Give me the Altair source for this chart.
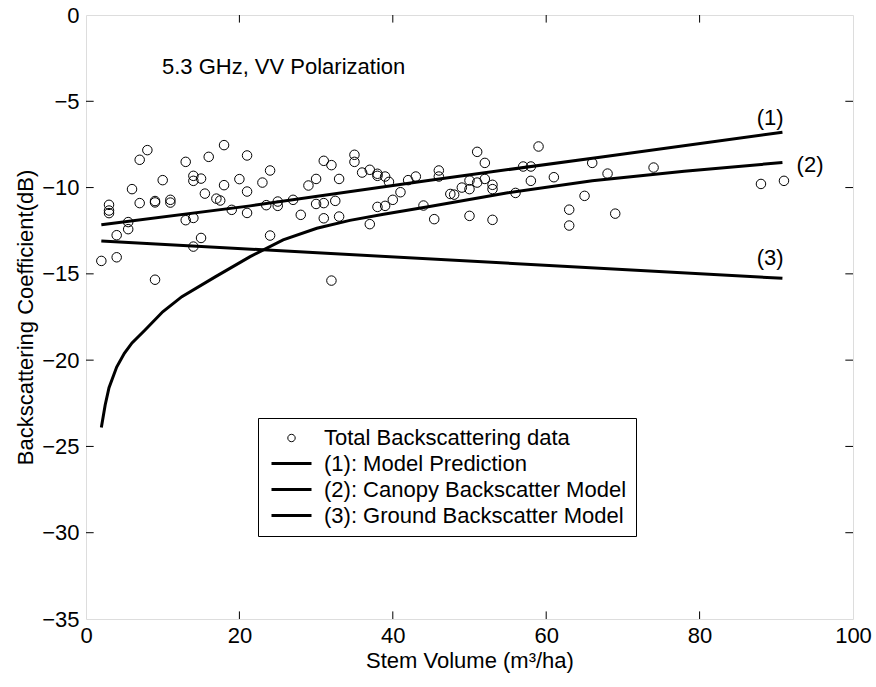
import altair as alt
import pandas as pd

FONT = "Liberation Sans"

# ---- scatter data: stem volume (m3/ha) vs total backscatter (dB) ----
stem_volume = [
    8, 7, 18, 21, 16, 13, 10, 6, 14, 14, 15, 18, 20, 21, 23, 15.5,
    17, 17.5, 19, 21, 3, 3, 3, 7, 9, 9, 11, 11, 5.5, 5.5, 13, 14,
    4, 15, 14, 2, 4, 9,
    24, 31, 32, 35, 35, 30, 29, 33, 36, 37, 38, 38, 39, 39.5, 42, 43,
    41, 40, 39, 38, 44, 23.5, 25, 25, 27, 30, 31, 32.5, 28, 31, 33, 37,
    24, 32,
    46, 46, 51, 52, 59, 57, 58, 66, 50, 51, 52, 53, 53, 49, 50, 47.5,
    48, 56, 58, 61, 65, 45.4, 50, 53, 63, 63,
    68, 74, 69, 88, 91,
]
backscatter = [
    -7.83, -8.39, -7.54, -8.14, -8.22, -8.51, -9.57, -10.09, -9.32, -9.61, -9.48, -9.86, -9.51, -10.23, -9.71, -10.35,
    -10.64, -10.75, -11.29, -11.47, -11.0, -11.33, -11.48, -10.9, -10.78, -10.86, -10.71, -10.87, -12.0, -12.41, -11.89, -11.76,
    -12.76, -12.92, -13.42, -14.25, -14.04, -15.34,
    -9.01, -8.45, -8.70, -8.10, -8.51, -9.50, -9.88, -9.50, -9.13, -8.97, -9.2, -9.32, -9.36, -9.67, -9.57, -9.36,
    -10.27, -10.71, -11.06, -11.12, -11.04, -11.02, -10.81, -11.06, -10.71, -10.95, -10.90, -10.77, -11.58, -11.78, -11.68, -12.12,
    -12.78, -15.39,
    -9.01, -9.36, -7.93, -8.57, -7.62, -8.78, -8.78, -8.57, -9.59, -9.71, -9.50, -9.84, -10.09, -10.0, -10.09, -10.37,
    -10.41, -10.31, -9.61, -9.40, -10.48, -11.83, -11.64, -11.87, -11.28, -12.2,
    -9.19, -8.84, -11.51, -9.79, -9.61,
]

# ---- model curves ----
model_x = [2.0, 21.4, 44.85, 67.0, 90.8]
model_y = [-12.16, -11.06, -9.57, -8.24, -6.79]

canopy_x = [2.0, 2.5, 3.0, 4.0, 5.0, 6.0, 7.7, 10.0, 12.5, 16.9, 21.4, 25.7, 30.1, 34.4, 38.8, 44.8, 55.0, 66.0, 78.0, 90.8]
canopy_y = [-23.9, -22.6, -21.6, -20.4, -19.6, -19.0, -18.25, -17.2, -16.32, -15.16, -14.0, -13.03, -12.36, -11.9, -11.55, -11.1, -10.3, -9.6, -9.05, -8.55]

ground_x = [2.0, 90.8]
ground_y = [-13.09, -15.26]

series_names = [
    "Total Backscattering data",
    "(1): Model Prediction",
    "(2): Canopy Backscatter Model",
    "(3): Ground Backscatter Model",
]

curve_labels = ["(1)", "(2)", "(3)"]
curve_label_x = [89.2, 94.4, 89.2]
curve_label_y = [-5.97, -8.68, -14.09]

x_ticks = [20, 40, 60, 80]
y_ticks = [-30, -25, -20, -15, -10, -5]

# ---- tables ----
pts = pd.DataFrame({"x": stem_volume, "y": backscatter, "series": series_names[0]})
lines = pd.concat([
    pd.DataFrame({"x": model_x, "y": model_y, "series": series_names[1]}),
    pd.DataFrame({"x": canopy_x, "y": canopy_y, "series": series_names[2]}),
    pd.DataFrame({"x": ground_x, "y": ground_y, "series": series_names[3]}),
], ignore_index=True)
lines["order"] = range(len(lines))
lbl = pd.DataFrame({"x": curve_label_x, "y": curve_label_y, "t": curve_labels})
xt = pd.DataFrame({"v": x_ticks})
yt = pd.DataFrame({"v": y_ticks})

xscale = alt.Scale(domain=[0, 100], nice=False, zero=False)
yscale = alt.Scale(domain=[-35, 0], nice=False, zero=False)

circle_path = "M-0.37,0A0.37,0.37,0,1,1,0.37,0A0.37,0.37,0,1,1,-0.37,0Z"
line_path = "M-2,0L2,0"

legend = alt.Legend(
    title=None, orient="none", legendX=172, legendY=403,
    fillColor="white", strokeColor="black", padding=9,
    labelFont=FONT, labelFontSize=22, labelColor="black", labelLimit=500,
    symbolSize=400, symbolOffset=13, labelOffset=21,
    symbolFillColor="transparent", rowPadding=3,
)
color = alt.Color("series:N", scale=alt.Scale(domain=series_names, range=["black"] * 4), legend=legend)
shape = alt.Shape("series:N", scale=alt.Scale(domain=series_names, range=[circle_path, line_path, line_path, line_path]), legend=legend)
sw = alt.StrokeWidth("series:N", scale=alt.Scale(type="ordinal", domain=series_names, range=[1, 3, 3, 3]), legend=legend)

xaxis = alt.Axis(
    title="Stem Volume (m³/ha)", values=[0, 20, 40, 60, 80, 100], ticks=False, domain=False, grid=False,
    labelFlush=False, labelFont=FONT, labelFontSize=22, labelColor="black", labelPadding=6,
    titleFont=FONT, titleFontSize=22, titleFontWeight="normal", titleColor="black", titlePadding=4,
)
yaxis = alt.Axis(
    title="Backscattering Coefficient(dB)", values=[-35, -30, -25, -20, -15, -10, -5, 0], ticks=False, domain=False, grid=False,
    labelFlush=False, labelFont=FONT, labelFontSize=22, labelColor="black", labelPadding=7,
    titleFont=FONT, titleFontSize=22, titleFontWeight="normal", titleColor="black", titlePadding=4,
)

base_x = alt.X("x:Q", scale=xscale, axis=xaxis)
base_y = alt.Y("y:Q", scale=yscale, axis=yaxis)

scatter = alt.Chart(pts).mark_point(filled=False, size=660, opacity=1).encode(
    x=base_x, y=base_y, color=color, shape=shape, strokeWidth=sw
)

curves = alt.Chart(lines).mark_line(strokeCap="butt").encode(
    x=alt.X("x:Q", scale=xscale),
    y=alt.Y("y:Q", scale=yscale),
    color=color, strokeWidth=sw, detail="series:N", order="order:Q",
)

labels = alt.Chart(lbl).mark_text(font=FONT, fontSize=22, color="black", align="center", baseline="middle").encode(
    x=alt.X("x:Q", scale=xscale), y=alt.Y("y:Q", scale=yscale), text="t:N"
)

title_txt = alt.Chart(pd.DataFrame({"t": ["5.3 GHz, VV Polarization"]})).mark_text(
    font=FONT, fontSize=22, color="black", align="left", baseline="alphabetic"
).encode(x=alt.datum(9.9, scale=xscale), y=alt.datum(-3.42, scale=yscale), text="t:N")

tick_bottom = alt.Chart(xt).mark_rule(color="black", strokeWidth=1).encode(
    x=alt.X("v:Q", scale=xscale), y=alt.datum(-35, scale=yscale), y2=alt.datum(-34.56))
tick_top = alt.Chart(xt).mark_rule(color="black", strokeWidth=1).encode(
    x=alt.X("v:Q", scale=xscale), y=alt.datum(0, scale=yscale), y2=alt.datum(-0.44))
tick_left = alt.Chart(yt).mark_rule(color="black", strokeWidth=1).encode(
    y=alt.Y("v:Q", scale=yscale), x=alt.datum(0, scale=xscale), x2=alt.datum(1.0))
tick_right = alt.Chart(yt).mark_rule(color="black", strokeWidth=1).encode(
    y=alt.Y("v:Q", scale=yscale), x=alt.datum(100, scale=xscale), x2=alt.datum(99.0))

chart = alt.layer(
    tick_bottom, tick_top, tick_left, tick_right, curves, scatter, labels, title_txt
).properties(
    width=767, height=604,
    autosize=alt.AutoSizeParams(type="none"),
    padding={"left": 86, "top": 15, "right": 23, "bottom": 68},
).configure_view(
    stroke="black", strokeWidth=1.2
).configure(background="white")

chart.save("out.html", embed_options={"renderer": "svg", "actions": False})
